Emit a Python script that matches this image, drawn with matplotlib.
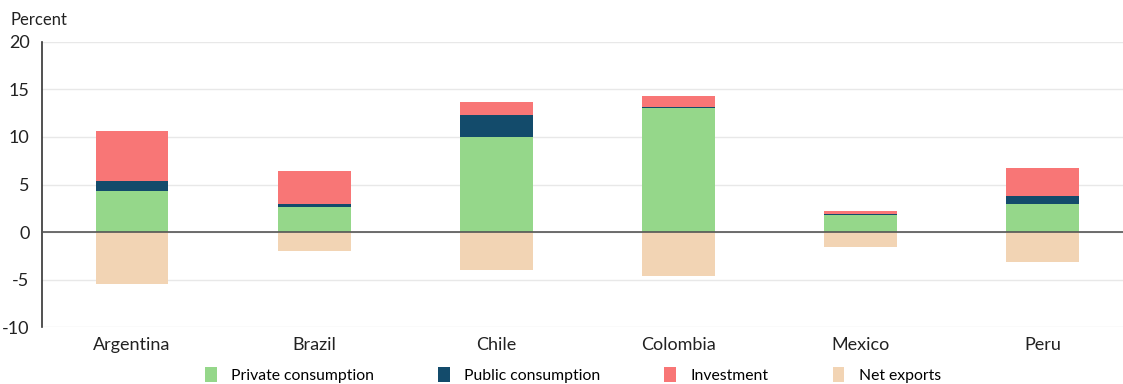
import numpy as np
import matplotlib.pyplot as plt
from matplotlib.patches import Patch

plt.rcParams['font.family'] = ['Lato', 'DejaVu Sans']
plt.rcParams['axes.unicode_minus'] = False

countries = ["Argentina", "Brazil", "Chile", "Colombia", "Mexico", "Peru"]
private = [4.3, 2.65, 9.95, 13.0, 1.8, 3.0]
public = [1.1, 0.3, 2.4, 0.15, 0.05, 0.8]
investment = [5.2, 3.45, 1.3, 1.15, 0.4, 2.9]
net_exports = [-5.5, -2.0, -3.95, -4.6, -1.55, -3.1]

labels = ["Private consumption", "Public consumption", "Investment", "Net exports"]
colors = ["#95d78a", "#134b6b", "#f87676", "#f2d4b4"]

fig = plt.figure(figsize=(11.23, 3.84), dpi=100)
ax = fig.add_axes([0.0374, 0.148, 0.9626, 0.743])

x = np.arange(len(countries))
w = 0.4
priv = np.array(private)
pub = np.array(public)
inv = np.array(investment)

ax.bar(x, priv, w, color=colors[0], zorder=2)
ax.bar(x, pub, w, bottom=priv, color=colors[1], zorder=2)
ax.bar(x, inv, w, bottom=priv + pub, color=colors[2], zorder=2)
ax.bar(x, net_exports, w, color=colors[3], zorder=2)

ax.set_xlim(-0.494, 5.44)
ax.set_ylim(-10, 20)
ax.set_yticks(range(-10, 21, 5))
ax.set_xticks(x)
ax.set_xticklabels(countries)
ax.tick_params(axis='both', length=0, labelsize=13, colors='#222222')
ax.tick_params(axis='x', pad=7)
ax.tick_params(axis='y', pad=9)
ax.grid(axis='y', color='#e8e8e8', linewidth=1, zorder=0)
ax.axhline(0, color='#555555', linewidth=1.2, zorder=3)

for s in ['top', 'right', 'bottom']:
    ax.spines[s].set_visible(False)
ax.spines['left'].set_color('#333333')
ax.spines['left'].set_linewidth(1.2)

fig.text(0.009, 0.935, "Percent", fontsize=12, color='#222222')

handles = [Patch(facecolor=c) for c in colors]
fig.legend(handles, labels, loc='center', bbox_to_anchor=(0.51, 0.023), ncol=4,
           frameon=False, fontsize=11.3, handlelength=0.75, handleheight=1.0,
           columnspacing=4.1, handletextpad=0.9)

fig.savefig("out.png", dpi=100)
